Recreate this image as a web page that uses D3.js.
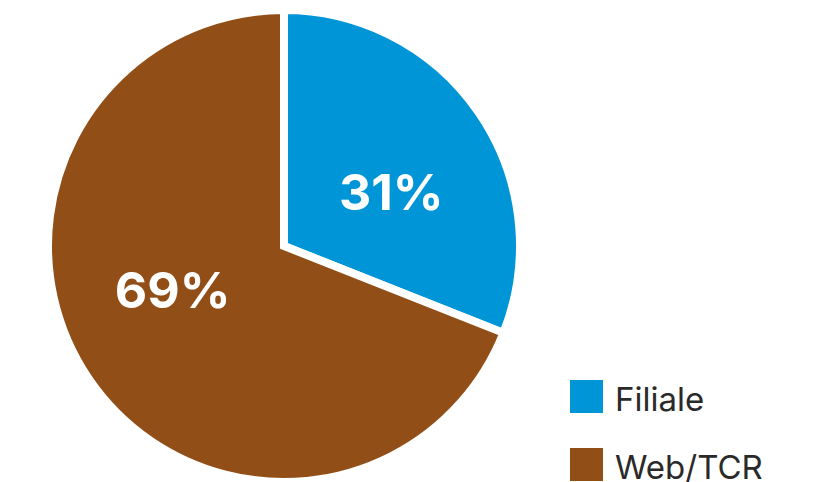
<!DOCTYPE html>
<html>
<head>
<meta charset="utf-8">
<script src="https://cdn.jsdelivr.net/npm/d3@7"></script>
<style>
  html, body { margin: 0; padding: 0; background: #fff; }
  svg { display: block; }
</style>
</head>
<body>
<svg id="chart" width="822" height="482"></svg>
<script>
// Channel split
const categories = ["Filiale", "Web/TCR"];
const shares = [31, 69];
const colors = ["#0095D6", "#914E16"];

const svg = d3.select("#chart");
const cx = 284, cy = 246, radius = 232;
const gap = 8; // white separator between slices

const pie = d3.pie().sort(null).value(d => d.value);
const slices = pie(categories.map((c, i) => ({ name: c, value: shares[i], color: colors[i] })));

// outer radius grows by half the stroke so the visible disc keeps its size
const arc = d3.arc().innerRadius(0).outerRadius(radius + gap / 2);

const g = svg.append("g").attr("transform", `translate(${cx},${cy})`);

g.selectAll("path.slice")
  .data(slices)
  .join("path")
  .attr("class", "slice")
  .attr("d", arc)
  .attr("fill", d => d.data.color)
  .attr("stroke", "#fff")
  .attr("stroke-width", gap)
  .attr("stroke-linejoin", "miter");

// Percentage labels, set slightly clockwise of each slice's middle
const labelRadius = 119.6;
const labelShift = 0.179;
const labels = g.append("g").attr("transform", "translate(-2,-5)");
labels.selectAll("text.pct")
  .data(slices)
  .join("text")
  .attr("class", "pct")
  .attr("x", d => labelRadius * Math.sin((d.startAngle + d.endAngle) / 2 + labelShift))
  .attr("y", d => -labelRadius * Math.cos((d.startAngle + d.endAngle) / 2 + labelShift))
  .attr("dy", "0.36em")
  .attr("text-anchor", "middle")
  .attr("fill", "#fff")
  .attr("font-family", "Inter, 'Noto Sans', sans-serif")
  .attr("font-weight", 700)
  .attr("font-size", 50)
  .text(d => d.data.value + "%");

// Legend
const legend = svg.append("g").attr("transform", "translate(570,380)");
const item = legend.selectAll("g.item")
  .data(slices)
  .join("g")
  .attr("class", "item")
  .attr("transform", (d, i) => `translate(0,${i * 68})`);

item.append("rect")
  .attr("width", 33)
  .attr("height", 33)
  .attr("fill", d => d.data.color);

item.append("text")
  .attr("x", 45)
  .attr("y", 31)
  .attr("fill", "#2a2a2a")
  .attr("font-family", "Inter, 'Noto Sans', sans-serif")
  .attr("font-size", 33)
  .text(d => d.data.name);
</script>
</body>
</html>
